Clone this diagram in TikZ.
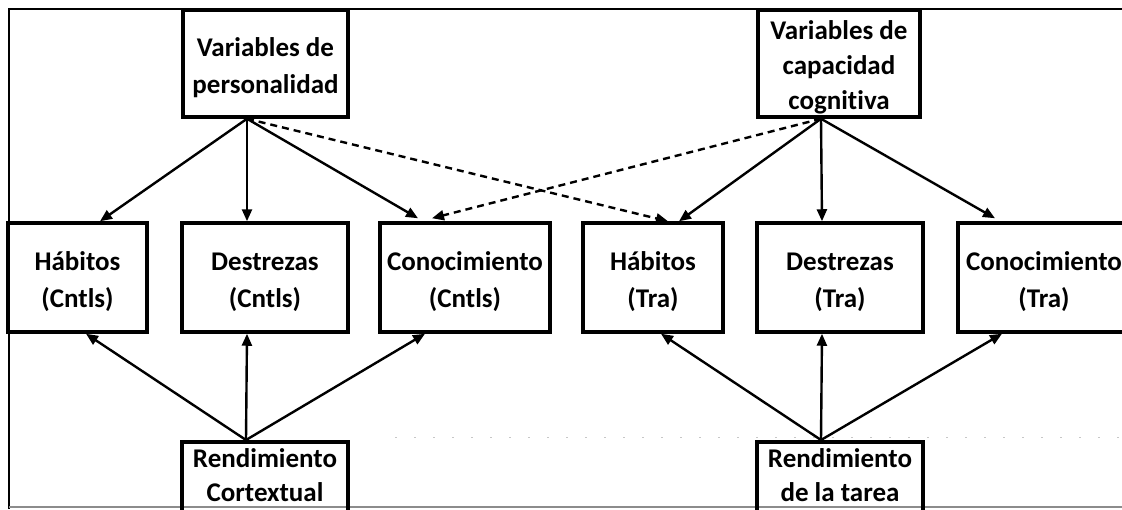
\documentclass[tikz,border=0pt]{standalone}
\usepackage{fontspec}
\setmainfont{Carlito}[Ligatures=NoCommon]
\usetikzlibrary{arrows.meta}
% invisible struts that fix the height of first lines and the depth of last lines
\newcommand{\lnstrut}{\vrule height 28pt depth 6pt width 0pt}
\newcommand{\topstrut}{\vrule height 26pt depth 0pt width 0pt}
\newcommand{\deepstrut}{\vrule height 0pt depth 30pt width 0pt}
\begin{document}
\begin{tikzpicture}[x=1pt,y=-1pt,
  box/.style={draw, line width=3.5pt, inner sep=0pt, align=center,
    font=\fontsize{27}{37}\selectfont\bfseries},
  rowbox/.style={box, minimum height=109pt},
  footbox/.style={box, anchor=north, minimum width=166pt,
    font=\fontsize{27}{34}\selectfont\bfseries},
  arr/.style={line width=2.4pt, -{Triangle[length=12pt,width=10pt]}},
  dsh/.style={arr, dash pattern=on 7pt off 5pt},
  frame/.style={line width=2pt},
]
\useasboundingbox (0,0) rectangle (1122,509);
\clip (0,0) rectangle (1122,509);
\fill[white] (0,0) rectangle (1122,509);

% outer frame
\draw[frame] (1122,9) -- (9,9) -- (9,509);
\draw[line width=1.5pt, black!45] (9,507) -- (1122,507);
\draw[line width=1pt, black!22, dash pattern=on 2pt off 17pt] (395,437) -- (1122,437);

% predictor variables
\node[box, minimum width=165pt, minimum height=107pt] (pers) at (265.5,63.5)
  {\lnstrut Variables de\\personalidad\lnstrut};
\node[box, minimum width=162pt, minimum height=107pt,
  font=\fontsize{27}{35}\selectfont\bfseries] (cog) at (839,63.5)
  {\lnstrut Variables de\\capacidad\\cognitiva\lnstrut};

% mediators
\node[rowbox, minimum width=139pt] (hc) at (77.5,277.5) {\lnstrut Hábitos\\(Cntls)\lnstrut};
\node[rowbox, minimum width=166pt] (dc) at (265,277.5) {\lnstrut Destrezas\\(Cntls)\lnstrut};
\node[rowbox, minimum width=170pt] (cc) at (465,277.5) {\lnstrut Conocimiento\\(Cntls)\lnstrut};
\node[rowbox, minimum width=140pt] (ht) at (653,277.5) {\lnstrut Hábitos\\(Tra)\lnstrut};
\node[rowbox, minimum width=166pt] (dt) at (840,277.5) {\lnstrut Destrezas\\(Tra)\lnstrut};
\node[rowbox, minimum width=172pt] (ct) at (1044,277.5) {\lnstrut Conocimiento\\(Tra)\lnstrut};

% performance criteria
\node[footbox] (rc) at (265,440) {\topstrut Rendimiento\\Cortextual\deepstrut};
\node[footbox] (rt) at (840,440) {\topstrut Rendimiento\\de la tarea\deepstrut};

% meeting points of the connectors
\coordinate (pa) at ([xshift=-18.5pt]pers.south);
\coordinate (ca) at ([xshift=-18pt]cog.south);
\coordinate (ra) at ([xshift=-19pt]rc.north);
\coordinate (ta) at ([xshift=-19pt]rt.north);

% personality
\draw[arr] (pa) -- ([xshift=22.5pt]hc.north);
\draw[arr] (pa) -- ([xshift=-18pt]dc.north);
\draw[arr] (pa) -- ([xshift=-47pt,yshift=3pt]cc.north);
\draw[dsh] (pa) -- ([xshift=15pt]ht.north);

% cognitive ability
\draw[arr] (ca) -- ([xshift=26pt]ht.north);
\draw[arr] (ca) -- ([xshift=-18pt]dt.north);
\draw[arr] (ca) -- ([xshift=-49pt,yshift=3pt]ct.north);
\draw[dsh] (ca) -- ([xshift=-33pt,yshift=3pt]cc.north);

% contextual performance
\draw[arr] (ra) -- ([xshift=8.5pt]hc.south);
\draw[arr] (ra) -- ([xshift=-18pt]dc.south);
\draw[arr] (ra) -- ([xshift=-40pt]cc.south);

% task performance
\draw[arr] (ta) -- ([xshift=8pt]ht.south);
\draw[arr] (ta) -- ([xshift=-18pt]dt.south);
\draw[arr] (ta) -- ([xshift=-42pt]ct.south);
\end{tikzpicture}
\end{document}
